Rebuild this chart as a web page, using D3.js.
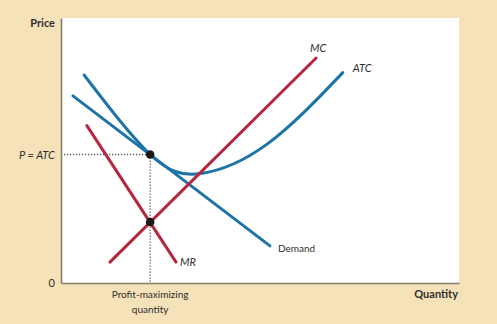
<!DOCTYPE html>
<html>
<head>
<meta charset="utf-8">
<script src="https://cdn.jsdelivr.net/npm/d3@7"></script>
<style>
  html, body { margin: 0; padding: 0; background: #f6e2b9; }
  svg { display: block; }
  text { font-family: Lato, "Open Sans", sans-serif; fill: #2e2e2e; }
</style>
</head>
<body>
<svg id="chart" width="497" height="324"></svg>
<script>
// ---- Data (quantity 0-100, price 0-100 on arbitrary scale) ----
const demandQ = [3.0, 52.5];
const demandP = [70.6, 14.0];

const mcQ = [12.3, 64.1];
const mcP = [7.9, 84.9];

const mrQ = [6.5, 28.9];
const mrP = [59.4, 7.9];

const atcQ = [5.8, 22.4, 35.0, 51.7, 70.8];
const atcP = [78.5, 48.5, 41.3, 52.3, 79.4];

const optimumQ = 22.4;   // profit-maximizing quantity
const priceAtOpt = 48.5; // P = ATC
const mcEqMr = 23.0;     // MC = MR level

const xLabel = "Quantity";
const yLabel = "Price";
const zeroLabel = "0";
const priceTickLabel = "P = ATC";
const qtyTickLabel = ["Profit-maximizing", "quantity"];

// ---- Layout ----
const svg = d3.select("#chart");
const plot = { left: 61, right: 459, top: 18, bottom: 283 };

const x = d3.scaleLinear().domain([0, 100]).range([plot.left, plot.right]);
const y = d3.scaleLinear().domain([0, 100]).range([plot.bottom, plot.top]);

const BLUE = "#1d74a6";
const RED = "#b3283f";
const AXIS = "#8a7c68";

// white plot area
svg.append("rect")
  .attr("x", plot.left).attr("y", plot.top)
  .attr("width", plot.right - plot.left)
  .attr("height", plot.bottom - plot.top)
  .attr("fill", "#ffffff");

// dotted guides
svg.append("line")
  .attr("x1", x(0)).attr("x2", x(optimumQ))
  .attr("y1", y(priceAtOpt)).attr("y2", y(priceAtOpt))
  .attr("stroke", "#555").attr("stroke-width", 1.3)
  .attr("stroke-dasharray", "1.2,1.8");
svg.append("line")
  .attr("x1", x(optimumQ)).attr("x2", x(optimumQ))
  .attr("y1", y(priceAtOpt)).attr("y2", y(0))
  .attr("stroke", "#555").attr("stroke-width", 1.3)
  .attr("stroke-dasharray", "1.2,1.8");

const line = d3.line().x(d => x(d[0])).y(d => y(d[1]));
const curve = d3.line().x(d => x(d[0])).y(d => y(d[1])).curve(d3.curveNatural);

const zip = (a, b) => a.map((v, i) => [v, b[i]]);

// Demand
svg.append("path").attr("d", line(zip(demandQ, demandP)))
  .attr("fill", "none").attr("stroke", BLUE).attr("stroke-width", 3).attr("stroke-linecap", "round");
// ATC
svg.append("path").attr("d", curve(zip(atcQ, atcP)))
  .attr("fill", "none").attr("stroke", BLUE).attr("stroke-width", 3).attr("stroke-linecap", "round");
// MR
svg.append("path").attr("d", line(zip(mrQ, mrP)))
  .attr("fill", "none").attr("stroke", RED).attr("stroke-width", 3).attr("stroke-linecap", "round");
// MC
svg.append("path").attr("d", line(zip(mcQ, mcP)))
  .attr("fill", "none").attr("stroke", RED).attr("stroke-width", 3).attr("stroke-linecap", "round");

// dots
svg.append("circle").attr("cx", x(optimumQ)).attr("cy", y(priceAtOpt)).attr("r", 4.3).attr("fill", "#1a1a1a");
svg.append("circle").attr("cx", x(optimumQ)).attr("cy", y(mcEqMr)).attr("r", 4.3).attr("fill", "#1a1a1a");

// axes
const xAxis = d3.axisBottom(x).ticks(0).tickSize(0).tickSizeOuter(0);
const yAxis = d3.axisLeft(y).ticks(0).tickSize(0).tickSizeOuter(0);
const gx = svg.append("g").attr("transform", `translate(0,${y(0)})`).call(xAxis);
const gy = svg.append("g").attr("transform", `translate(${x(0)},0)`).call(yAxis);
[gx, gy].forEach(g => g.select(".domain").attr("stroke", AXIS).attr("stroke-width", 1.6));

// curve labels
const mcEnd = [mcQ[mcQ.length - 1], mcP[mcP.length - 1]];
svg.append("text").attr("x", x(mcEnd[0]) - 6).attr("y", y(mcEnd[1]) - 6)
  .attr("font-size", 11).attr("font-style", "italic").text("MC");
const atcEnd = [atcQ[atcQ.length - 1], atcP[atcP.length - 1]];
svg.append("text").attr("x", x(atcEnd[0]) + 10).attr("y", y(atcEnd[1]) - 0.5)
  .attr("font-size", 11).attr("font-style", "italic").text("ATC");
const dEnd = [demandQ[1], demandP[1]];
svg.append("text").attr("x", x(dEnd[0]) + 8).attr("y", y(dEnd[1]) + 6)
  .attr("font-size", 10).text("Demand");
const mrEnd = [mrQ[1], mrP[1]];
svg.append("text").attr("x", x(mrEnd[0]) + 4).attr("y", y(mrEnd[1]) + 4)
  .attr("font-size", 11).attr("font-style", "italic").text("MR");

// axis labels
svg.append("text").attr("x", x(0) - 6).attr("y", y(priceAtOpt) + 4.5)
  .attr("text-anchor", "end").attr("font-size", 11).attr("font-style", "italic").text(priceTickLabel);
svg.append("text").attr("x", x(0) - 6).attr("y", y(0) + 4)
  .attr("text-anchor", "end").attr("font-size", 11).text(zeroLabel);
svg.append("text").attr("x", x(0) - 6).attr("y", plot.top + 9)
  .attr("text-anchor", "end").attr("font-size", 11).attr("font-weight", "bold").text(yLabel);
svg.append("text").attr("x", x(100) - 1).attr("y", y(0) + 15)
  .attr("text-anchor", "end").attr("font-size", 11).attr("font-weight", "bold").text(xLabel);
qtyTickLabel.forEach((t, i) => {
  svg.append("text").attr("x", x(optimumQ)).attr("y", y(0) + 15 + i * 14.5)
    .attr("text-anchor", "middle").attr("font-size", 10).text(t);
});
</script>
</body>
</html>
